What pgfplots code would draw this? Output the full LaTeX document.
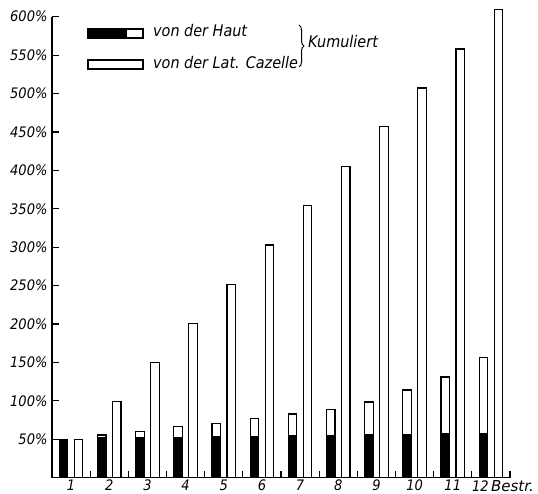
\documentclass[border=0pt]{standalone}
\usepackage{fontspec}
\setmainfont{DejaVu Sans Condensed}
\newfontfamily\widefont{DejaVu Sans}
\usepackage{pgfplots}
\usepackage{pgfplotstable}
\pgfplotsset{compat=1.18}
\usetikzlibrary{decorations.pathreplacing}

% n: Bestrahlung, haut: dark part, hautkum: cumulated Haut, caz: cumulated Lat. Cazelle
\pgfplotstableread{
n  haut  hautkum  caz
1  50    50       50
2  52    55.6     99
3  52    60       150
4  52    66.4     201
5  53.4  70.8     251
6  53.4  77.3     303
7  54.3  83       354
8  54.7  88.5     405
9  55.6  98.6     457
10 56.5  114.2    507
11 57.3  131      558
12 57.8  156.8    609
}\data

\newcommand\lblfont{\fontsize{14.5}{15}\selectfont\itshape}

\begin{document}
\begin{tikzpicture}
\useasboundingbox (-52pt,-16.3pt) rectangle (486pt,477.7pt);
\begin{axis}[
  scale only axis,
  width=458pt, height=461pt,
  xmin=0.5, xmax=12.5, ymin=0, ymax=600,
  axis x line*=bottom, axis y line*=left,
  axis line style={-, line width=1.4pt},
  clip=false,
  tick align=inside,
  major tick length=7pt,
  tick style={line width=1.2pt, black},
  xtick={1.5,2.5,...,12.5}, xticklabels={},
  extra x ticks={1,2,...,11},
  extra x tick labels={1,2,3,4,5,6,7,8,9,10,11},
  extra x tick style={tick style={draw=none}},
  ytick={50,100,...,600},
  yticklabels={50\%,100\%,150\%,200\%,250\%,300\%,350\%,400\%,450\%,500\%,550\%,600\%},
  /pgf/number format/assume math mode=true,
  xticklabel style={font=\lblfont, yshift=1pt},
  yticklabel style={font=\lblfont, xshift=-1pt},
]
% Haut: cumulated total (white), then the dark part on top of it
\addplot[ybar, bar width=8.5pt, bar shift=-7.5pt, fill=white, draw=black, line width=1.3pt]
  table[x=n, y=hautkum] {\data};
\addplot[ybar, bar width=8.5pt, bar shift=-7.5pt, fill=black, draw=black, line width=1.3pt]
  table[x=n, y=haut] {\data};
% Lat. Cazelle
\addplot[ybar, bar width=8.5pt, bar shift=7.5pt, fill=white, draw=black, line width=1.3pt]
  table[x=n, y=caz] {\data};
\node[anchor=north west, inner sep=0pt, font=\lblfont]
  at (axis cs:11.5,0) [yshift=-3pt] {12\,{\widefont\fontsize{15}{16}\selectfont\itshape Bestr.}};
\end{axis}

% legend
\fill[black] (36pt,439.7pt) rectangle (75pt,448.7pt);
\draw[line width=1.2pt] (36pt,439.7pt) rectangle (91pt,448.7pt);
\draw[line width=1.2pt] (36pt,408.7pt) rectangle (91pt,417.7pt);
\begin{scope}[every node/.style={inner sep=0pt, font=\fontsize{16}{17}\selectfont\itshape}]
\node[anchor=base west] at (101pt,441pt) {von der Haut};
\node[anchor=base west] at (101pt,408.7pt) {von der Lat. Cazelle};
\draw[line width=1pt, decorate, decoration={brace, amplitude=5pt}]
  (247pt,452.7pt) -- (247pt,410.7pt);
\node[anchor=base west] at (256pt,430.4pt) {Kumuliert};
\end{scope}
\end{tikzpicture}
\end{document}
